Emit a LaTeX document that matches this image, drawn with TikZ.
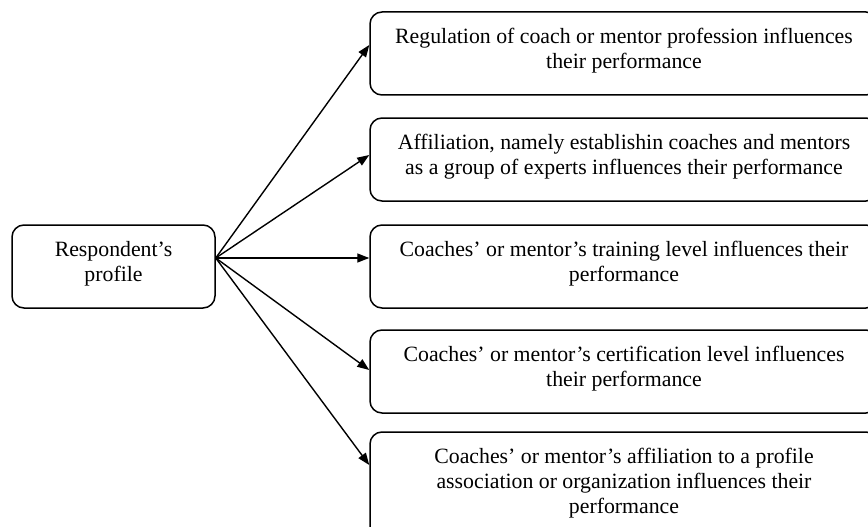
\documentclass[tikz,border=0pt]{standalone}
\usepackage{fontspec}
\setmainfont{Liberation Serif}
\usetikzlibrary{arrows.meta}

\begin{document}
\begin{tikzpicture}[x=1pt, y=1pt,
        box/.style={draw=black, line width=1.5pt, rounded corners=12pt, align=center,
            font=\fontsize{21.8}{25}\selectfont, text depth=11pt, inner sep=0pt},
        link/.style={line width=1.4pt, -{Triangle[length=12pt, width=9pt]}}]

            \useasboundingbox (0,0) rectangle (868,-527);

            % Draw profile box (left)
            \node[box, minimum width=203, minimum height=83] (prof) at (113.5,-266.5) {Respondent’s\\profile};

            % Draw influence boxes (right)
            \node[box, minimum width=508, minimum height=83] (reg) at (624,-53.5) {Regulation of coach or mentor profession influences\\their performance};
            \node[box, minimum width=508, minimum height=83] (aff) at (624,-159.5) {Affiliation, namely establishin coaches and mentors\\as a group of experts influences their performance};
            \node[box, minimum width=508, minimum height=83] (train) at (624,-266.5) {Coaches’ or mentor’s training level influences their\\performance};
            \node[box, minimum width=508, minimum height=83] (cert) at (624,-371.5) {Coaches’ or mentor’s certification level influences\\their performance};
            \node[box, minimum width=508, minimum height=108] (assoc) at (624,-486) {Coaches’ or mentor’s affiliation to a profile\\association or organization influences their\\performance};

            % Draw arrows
            \coordinate (src) at ([yshift=8.5pt]prof.east);
            \draw[link] (src) -- ([yshift=8.5pt]reg.west);
            \draw[link] (src) -- ([yshift=4.5pt]aff.west);
            \draw[link] (src) -- ([yshift=8.5pt]train.west);
            \draw[link] (src) -- ([yshift=1.5pt]cert.west);
            \draw[link] (src) -- ([yshift=21pt]assoc.west);

\end{tikzpicture}
\end{document}
